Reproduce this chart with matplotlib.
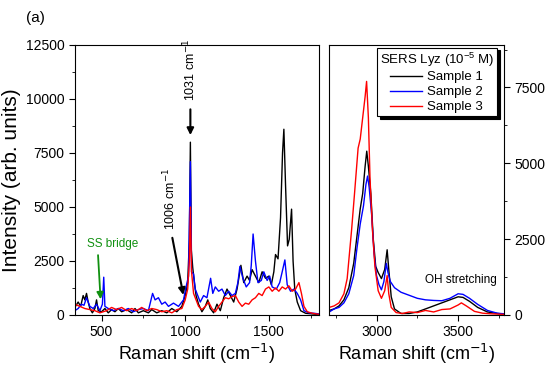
import matplotlib
matplotlib.use('Agg')
from matplotlib import pyplot as plt
from matplotlib.ticker import MultipleLocator

plt.rcParams['font.family'] = ['Liberation Sans', 'DejaVu Sans']

# Panel kiri: 340 - 1800 cm-1
kiri_x1 = [340, 360, 375, 390, 400, 410, 420, 430, 445, 460, 470, 480, 500, 520, 540, 560, 580,
           600, 620, 650, 680, 700, 720, 750, 780, 800, 830, 860, 890, 920, 950, 980, 1000,
           1015, 1025, 1031, 1037, 1045, 1055, 1065, 1080, 1100, 1120, 1135, 1150, 1170, 1190,
           1210, 1230, 1250, 1270, 1290, 1310, 1333, 1350, 1370, 1385, 1400, 1420, 1440, 1460,
           1480, 1500, 1515, 1530, 1540, 1555, 1570, 1582, 1590, 1600, 1612, 1622, 1636, 1645,
           1655, 1670, 1690, 1720, 1760, 1800]
kiri_y1 = [350, 600, 400, 900, 700, 1000, 600, 300, 100, 300, 700, 200, 150, 300, 100, 250, 150,
           300, 150, 250, 100, 300, 100, 200, 100, 250, 100, 200, 100, 300, 150, 400, 900,
           1500, 3500, 8000, 3000, 2200, 1500, 900, 500, 150, 400, 700, 300, 100, 500,
           200, 800, 1200, 900, 600, 1200, 2300, 1500, 1800, 1600, 2100, 1800, 1500, 2000,
           1700, 1800, 1400, 2000, 2800, 2600, 4500, 7500, 8600, 6000, 3200, 3500, 4900, 2500,
           1200, 600, 200, 80, 50, 20]

kiri_x2 = [340, 360, 380, 395, 410, 430, 450, 470, 490, 505, 513, 520, 540, 570, 600, 630, 660,
           690, 720, 750, 780, 805, 820, 840, 860, 880, 900, 930, 960, 990, 1005, 1020, 1031,
           1038, 1050, 1060, 1075, 1090, 1110, 1130, 1152, 1165, 1180, 1200, 1220, 1240, 1260,
           1280, 1300, 1315, 1327, 1345, 1365, 1385, 1395, 1406, 1420, 1435, 1455, 1470, 1490,
           1505, 1520, 1545, 1565, 1580, 1596, 1610, 1630, 1650, 1670, 1690, 1710, 1740, 1770, 1800]
kiri_y2 = [200, 300, 500, 450, 800, 400, 300, 500, 200, 500, 1750, 400, 300, 200, 300, 200, 300,
           150, 250, 300, 200, 1000, 700, 800, 500, 600, 400, 550, 400, 700, 1300, 1800, 7100,
           2000, 1900, 1200, 900, 600, 900, 800, 1700, 1000, 1300, 1100, 1200, 900, 1100,
           900, 1000, 1500, 2250, 1700, 1300, 1500, 2300, 3750, 2500, 1500, 1600, 2000, 1600,
           1800, 1300, 1200, 1500, 2000, 2550, 1400, 1100, 1200, 1000, 700, 200, 100, 80, 50]

kiri_x3 = [340, 370, 400, 430, 460, 490, 510, 530, 560, 590, 620, 650, 680, 710, 740, 770, 800,
           830, 860, 890, 920, 950, 980, 1000, 1015, 1025, 1031, 1038, 1050, 1065, 1080, 1100,
           1120, 1140, 1160, 1180, 1200, 1220, 1240, 1260, 1280, 1300, 1320, 1340, 1360, 1380,
           1400, 1420, 1440, 1460, 1480, 1500, 1520, 1540, 1560, 1580, 1600, 1620, 1640, 1660,
           1680, 1695, 1710, 1730, 1760, 1800]
kiri_y3 = [500, 400, 300, 250, 200, 100, 150, 200, 350, 250, 350, 200, 300, 200, 350, 200, 300,
           250, 150, 200, 100, 250, 300, 700, 1200, 2500, 5000, 2000, 1000, 700, 400, 250,
           400, 600, 300, 150, 400, 600, 800, 750, 850, 900, 600, 400, 550, 500,
           700, 800, 1000, 900, 1200, 1300, 1100, 1250, 1100, 1300, 1200, 1350, 1100, 1200,
           1500, 1000, 400, 150, 80, 30]

# Panel kanan: 2700 - 3780 cm-1
kanan_x1 = [2710, 2740, 2770, 2800, 2830, 2860, 2880, 2900, 2915, 2930, 2940, 2950, 2965, 2980,
            2995, 3010, 3030, 3050, 3065, 3075, 3090, 3110, 3150, 3200, 3250, 3300, 3350, 3400,
            3450, 3500, 3530, 3570, 3620, 3680, 3740, 3780]
kanan_y1 = [150, 200, 300, 500, 900, 1700, 2600, 3500, 4000, 4900, 5400, 4900, 4000, 2500,
            1600, 1400, 1200, 1500, 2150, 1500, 600, 200, 50, 50, 100, 200, 300, 400,
            500, 600, 580, 450, 250, 100, 50, 30]

kanan_x2 = [2710, 2740, 2770, 2800, 2830, 2860, 2880, 2900, 2920, 2935, 2945, 2955, 2970, 2985,
            3000, 3015, 3030, 3045, 3060, 3070, 3085, 3110, 3150, 3200, 3250, 3300, 3350, 3400,
            3450, 3500, 3530, 3570, 3620, 3680, 3740, 3780]
kanan_y2 = [100, 200, 250, 400, 700, 1300, 2200, 3000, 3600, 4300, 4580, 4200, 3300, 2000,
            1300, 1000, 830, 1100, 1700, 1400, 1100, 900, 750, 650, 550, 500, 480, 470,
            550, 700, 680, 550, 350, 150, 60, 40]

kanan_x3 = [2710, 2740, 2770, 2800, 2820, 2847, 2865, 2887, 2900, 2915, 2930, 2939, 2950, 2960,
            2975, 2990, 3010, 3030, 3050, 3065, 3075, 3090, 3120, 3160, 3200, 3250, 3300, 3350,
            3400, 3450, 3500, 3520, 3550, 3600, 3650, 3700, 3780]
kanan_y3 = [250, 300, 400, 700, 1200, 2800, 4000, 5500, 5800, 6500, 7200, 7700, 6500, 4500,
            2800, 1600, 800, 550, 800, 1300, 700, 250, 80, 50, 100, 80, 150, 100,
            180, 200, 330, 400, 300, 120, 60, 40, 20]

label_sampel = ['Sample 1', 'Sample 2', 'Sample 3']
warna = ['black', '#0000ff', '#ff0000']

fig = plt.figure(figsize=(5.5, 3.75), dpi=100)
ax1 = fig.add_axes([0.136, 0.16, 0.444, 0.72])
ax2 = fig.add_axes([0.598, 0.16, 0.318, 0.72])

data_kiri = [(kiri_x1, kiri_y1), (kiri_x2, kiri_y2), (kiri_x3, kiri_y3)]
data_kanan = [(kanan_x1, kanan_y1), (kanan_x2, kanan_y2), (kanan_x3, kanan_y3)]

for (x, y), c in zip(data_kiri, warna):
    ax1.plot(x, y, color=c, lw=1)
for (x, y), c, lab in zip(data_kanan, warna, label_sampel):
    ax2.plot(x, y, color=c, lw=1, label=lab)

# Sumbu kiri
ax1.set_xlim(340, 1800)
ax1.set_ylim(0, 12500)
ax1.xaxis.set_major_locator(MultipleLocator(500))
ax1.xaxis.set_minor_locator(MultipleLocator(250))
ax1.yaxis.set_major_locator(MultipleLocator(2500))
ax1.yaxis.set_minor_locator(MultipleLocator(1250))
ax1.tick_params(which='both', direction='out', top=False, right=False, labelsize=10)
ax1.tick_params(which='major', length=4)
ax1.tick_params(which='minor', length=2.5)
ax1.set_xlabel('Raman shift (cm$^{-1}$)', fontsize=13, labelpad=2)
ax1.set_ylabel('Intensity (arb. units)', fontsize=15, labelpad=3)

# Sumbu kanan
ax2.set_xlim(2708, 3780)
ax2.set_ylim(0, 8900)
ax2.xaxis.set_major_locator(MultipleLocator(500))
ax2.xaxis.set_minor_locator(MultipleLocator(250))
ax2.yaxis.set_major_locator(MultipleLocator(2500))
ax2.yaxis.set_minor_locator(MultipleLocator(1250))
ax2.yaxis.tick_right()
ax2.tick_params(which='both', direction='out', top=False, left=False, labelsize=10)
ax2.tick_params(which='major', length=4)
ax2.tick_params(which='minor', length=2.5)
ax2.set_xlabel('Raman shift (cm$^{-1}$)', fontsize=13, labelpad=2)

leg = ax2.legend(title='SERS Lyz (10$^{\\mathregular{-5}}$ M)', loc='upper right',
                 bbox_to_anchor=(0.96, 0.99), borderaxespad=0, fontsize=9.5,
                 title_fontsize=9.5, fancybox=False, framealpha=1, edgecolor='black',
                 handlelength=2.4, handletextpad=0.4, labelspacing=0.2,
                 borderpad=0.2, shadow={'color': 'black', 'alpha': 1})
leg.get_frame().set_linewidth(0.8)

# Anotasi
ax1.annotate('', xy=(1031, 8200), xytext=(1031, 9650),
             arrowprops=dict(arrowstyle='-|>', color='black', lw=1.5, mutation_scale=10))
ax1.text(1031, 9900, '1031 cm$^{-1}$', rotation=90, ha='center', va='bottom', fontsize=9)
ax1.annotate('', xy=(992, 800), xytext=(920, 3700),
             arrowprops=dict(arrowstyle='-|>', color='black', lw=1.5, mutation_scale=10))
ax1.text(910, 3950, '1006 cm$^{-1}$', rotation=90, ha='center', va='bottom', fontsize=9)
ax1.annotate('', xy=(495, 600), xytext=(478, 2900),
             arrowprops=dict(arrowstyle='-|>', color='#109010', lw=1.3, mutation_scale=10))
ax1.text(567, 3300, 'SS bridge', color='#109010', ha='center', va='center', fontsize=8.5)
ax2.text(3300, 1160, 'OH stretching', ha='left', va='center', fontsize=8.5)

fig.text(0.064, 0.952, '(a)', ha='center', va='center', fontsize=11)

plt.savefig('out.png', dpi=100)
